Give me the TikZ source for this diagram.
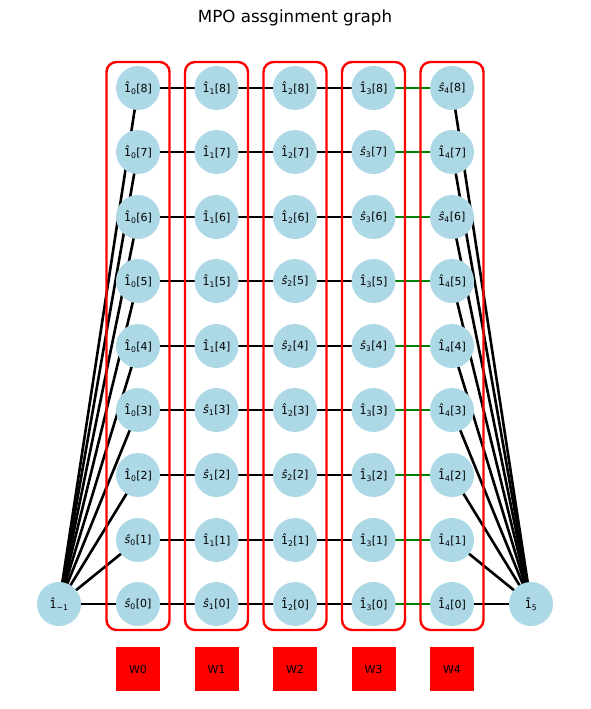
\documentclass[tikz,border=0pt]{standalone}
\usepackage{fontspec}
\setmainfont{DejaVu Sans}
\usetikzlibrary{calc}
\pgfdeclarelayer{edges}
\pgfdeclarelayer{boxes}
\pgfsetlayers{edges,boxes,main}
\newcommand\lone[2]{1̂\textsubscript{#1}[#2]}
\newcommand\sone[2]{{\itshape ŝ}\textsubscript{#1}[#2]}
\definecolor{nodeblue}{HTML}{ADD8E6}
\definecolor{edgegreen}{HTML}{008000}
\tikzset{
  vtx/.style={circle,fill=nodeblue,minimum size=44pt,inner sep=0pt,font=\fontsize{11}{13}\selectfont},
  edg/.style={line width=2.6pt,black},
  gedg/.style={line width=2.6pt,edgegreen},
  grp/.style={draw=red,line width=2.4pt,rounded corners=10pt},
  wbox/.style={fill=red,minimum size=44pt,inner sep=0pt,font=\fontsize{11}{13}\selectfont}
}
\begin{document}
\begin{tikzpicture}[x=1pt,y=-1pt]
\useasboundingbox (0,0) rectangle (590,709);
\node[font=\fontsize{16.7}{20}\selectfont] (title) at (295,18) {MPO assginment graph};
\def\cx{{138,216.5,295,373.5,452}}
\def\ry{{604,540,475,410,346,281,217,152,88}}
\def\typeA{{"s","s","l","l","l","l","l","l","l"}}
\def\typeB{{"s","l","s","s","l","l","l","l","l"}}
\def\typeC{{"l","l","s","l","s","s","l","l","l"}}
\def\typeD{{"l","l","l","l","s","l","s","s","l"}}
\def\typeE{{"l","l","l","l","l","l","s","l","s"}}
\foreach \c/\T in {0/\typeA,1/\typeB,2/\typeC,3/\typeD,4/\typeE}{
  \foreach \r in {0,...,8}{
    \pgfmathsetmacro\xx{\cx[\c]}
    \pgfmathsetmacro\yy{\ry[\r]}
    \pgfmathparse{\T[\r]}
    \edef\tp{\pgfmathresult}
    \def\sv{s}
    \ifx\tp\sv
      \node[vtx] (n\c-\r) at (\xx,\yy) {\sone{\c}{\r}};
    \else
      \node[vtx] (n\c-\r) at (\xx,\yy) {\lone{\c}{\r}};
    \fi
  }
}
\node[vtx] (left) at (59,604) {1̂\textsubscript{−1}};
\node[vtx] (right) at (531,604) {1̂\textsubscript{5}};
% W boxes
\foreach \c in {0,...,4}{
  \pgfmathsetmacro\xx{\cx[\c]}
  \node[wbox] (w\c) at (\xx,669) {W\c};
}
% edges
\begin{pgfonlayer}{edges}
\foreach \r in {0,...,8}{
  \draw[edg] (left.center) -- (n0-\r.center);
  \draw[edg] (right.center) -- (n4-\r.center);
  \draw[edg] (n0-\r.center) -- (n1-\r.center);
  \draw[edg] (n1-\r.center) -- (n2-\r.center);
  \draw[edg] (n2-\r.center) -- (n3-\r.center);
  \draw[gedg] (n3-\r.center) -- (n4-\r.center);
}
\end{pgfonlayer}
% group boxes
\begin{pgfonlayer}{boxes}
\foreach \c in {0,...,4}{
  \draw[grp] ($(n\c-8.center)+(-31.5,-26)$) rectangle ($(n\c-0.center)+(31.5,26)$);
}
\end{pgfonlayer}
\end{tikzpicture}
\end{document}
